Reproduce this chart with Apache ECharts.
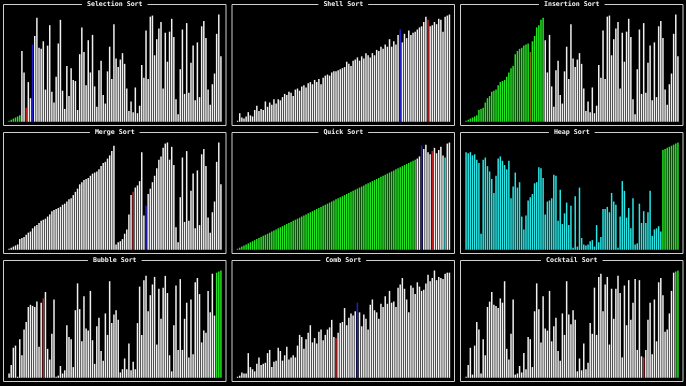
<!DOCTYPE html>
<html><head><meta charset="utf-8">
<script src="https://cdn.jsdelivr.net/npm/echarts@6/dist/echarts.min.js"></script>
<style>html,body{margin:0;padding:0;background:#000;}#c{width:686px;height:386px;}</style>
</head><body><div id="c"></div><script>
const titles = ['Selection Sort','Shell Sort','Insertion Sort','Merge Sort','Quick Sort','Heap Sort','Bubble Sort','Comb Sort','Cocktail Sort'];

const selectionSort = [1,2,3,4,5,6,66,46,13,37,22,72,80,97,69,68,75,30,71,90,28,18,42,73,95,29,12,52,24,50,39,38,11,63,88,65,34,76,46,81,33,14,48,57,25,17,47,70,40,91,59,51,58,64,54,31,10,19,9,32,8,15,53,41,85,40,98,99,62,77,87,93,31,83,56,84,96,79,21,7,49,86,26,92,27,55,71,20,74,23,89,94,78,30,16,35,45,82,100,61];
const shellSort = [1,8,4,3,5,9,6,5,11,15,10,12,11,19,14,18,16,21,17,21,20,23,26,25,28,27,24,30,31,29,33,34,32,36,37,35,39,37,40,35,41,43,44,43,46,47,47,48,49,50,51,56,54,52,57,58,60,57,61,59,64,62,60,64,62,67,66,70,68,72,70,77,70,75,72,81,86,74,82,78,85,81,83,84,86,88,89,93,98,95,89,90,93,91,96,95,84,98,99,100];
const insertionSort = [1,2,3,4,5,6,11,12,13,18,22,24,28,29,30,34,37,38,39,42,46,50,52,63,66,68,69,71,72,73,65,75,80,88,90,95,97,76,46,81,33,14,48,57,25,17,47,70,40,91,59,51,58,64,54,31,10,19,9,32,8,15,53,41,85,40,98,99,62,77,87,93,31,83,56,84,96,79,21,7,49,86,26,92,27,55,71,20,74,23,89,94,78,30,16,35,45,82,100,61];
const mergeSort = [1,2,3,4,5,10,11,12,14,16,17,20,22,23,25,27,28,29,31,33,36,37,38,39,40,42,43,45,47,48,51,54,57,61,63,65,66,67,69,71,72,73,75,78,81,82,85,88,92,97,5,7,8,10,15,19,33,51,54,58,60,64,91,32,41,52,57,63,69,76,84,87,95,99,100,84,96,79,21,7,49,86,26,92,27,55,71,20,74,23,89,94,78,30,16,35,45,82,100,61];
const quickSort = [1,2,3,4,5,6,7,8,9,10,11,12,13,14,15,16,17,18,19,20,21,22,23,24,25,26,27,28,29,30,31,32,33,34,35,36,37,38,39,40,41,42,43,44,45,46,47,48,49,50,51,52,53,54,55,56,57,58,59,60,61,62,63,64,65,66,67,68,69,70,71,72,73,74,75,76,77,78,79,80,81,82,83,84,85,87,97,94,98,91,89,92,95,90,93,96,88,86,99,100];
const heapSort = [91,90,91,88,89,84,81,15,84,86,78,73,66,53,69,85,87,83,79,75,83,48,59,72,58,63,31,19,32,46,49,52,62,63,77,76,67,33,45,46,48,70,69,27,56,24,34,44,23,41,2,50,3,58,11,5,4,5,8,9,3,23,7,12,38,38,40,35,53,45,42,2,31,64,55,30,39,20,48,5,6,43,25,36,25,35,55,13,19,20,22,17,93,94,95,96,97,98,99,100];
const bubbleSort = [4,12,28,30,1,36,21,45,52,66,68,67,66,71,29,70,74,80,27,17,41,73,1,2,11,4,7,49,38,36,10,63,88,64,34,76,46,44,81,35,13,48,56,25,16,60,40,90,51,59,63,54,5,8,18,8,32,7,15,8,51,85,40,91,95,62,77,87,94,31,83,55,84,95,79,21,6,49,86,26,92,26,55,70,19,73,22,89,93,78,33,44,42,81,61,97,58,98,99,100];
const combSort = [1,2,5,4,4,23,10,8,6,13,19,12,13,14,23,26,10,15,16,28,25,16,21,29,17,19,21,19,30,40,38,27,36,42,49,33,37,32,43,45,35,40,45,47,54,38,37,42,51,52,65,49,56,60,58,62,70,61,48,59,55,45,68,73,63,61,55,69,66,76,69,81,70,71,66,84,87,93,83,73,61,86,84,78,89,85,81,82,88,96,90,93,100,91,94,93,92,97,98,98];
const cocktailSort = [1,12,28,3,30,52,45,4,36,21,66,71,80,68,67,65,74,70,90,27,17,41,73,3,4,11,5,23,8,38,36,10,62,88,64,33,76,46,44,81,34,48,56,25,16,60,40,90,59,50,63,54,6,18,7,32,8,14,51,41,84,40,94,97,62,87,94,31,83,55,83,95,79,19,86,49,91,54,70,92,26,91,20,19,26,54,70,22,73,34,89,93,77,43,45,60,81,98,99,100];

// highlighted bars: index ranges [from, to] per colour role
const selectionMarks = {green: [0, 5], red: [8, 8], blue: [11, 11]};
const shellMarks = {blue: [76, 76], red: [89, 89]};
const insertionMarks = {green: [0, 36], brown: [30, 30]};
const mergeMarks = {red: [58, 58], blue: [64, 64]};
const quickMarks = {green: [0, 83], blue: [86, 86], red: [91, 91], cyan: [97, 97]};
const heapMarks = {cyan: [0, 91], green: [92, 99]};
const bubbleMarks = {red: [16, 16], green: [97, 99]};
const combMarks = {red: [46, 46], blue: [56, 56]};
const cocktailMarks = {red: [83, 83], green: [98, 99]};

const panelData = [selectionSort, shellSort, insertionSort, mergeSort, quickSort, heapSort, bubbleSort, combSort, cocktailSort];
const panelMarks = [selectionMarks, shellMarks, insertionMarks, mergeMarks, quickMarks, heapMarks, bubbleMarks, combMarks, cocktailMarks];

const COLORS = {white: '#f0f0f0', green: '#22e622', red: '#c42222', blue: '#2020d0', cyan: '#28e6e6', brown: '#96621a'};
const ORDER = ['green', 'cyan', 'brown', 'red', 'blue'];
const colLeft = [3.5, 232, 460.5];
const rowTop = [4.5, 132.5, 260.5];
const PW = 222.5, PH = 121;

function colorAt(marks, i) {
  let c = COLORS.white;
  for (const role of ORDER) {
    const r = marks[role];
    if (r && i >= r[0] && i <= r[1]) c = COLORS[role];
  }
  return c;
}

const grid = [], xAxis = [], yAxis = [], series = [], graphic = [];
panelData.forEach((data, p) => {
  const px = colLeft[p % 3], py = rowTop[Math.floor(p / 3)];
  grid.push({left: px + 4.5, top: py + 10, width: 214, height: 107.3, show: false});
  xAxis.push({type: 'category', gridIndex: p, data: data.map((_, i) => i), show: false, boundaryGap: true});
  yAxis.push({type: 'value', gridIndex: p, min: 0, max: 100, show: false});
  series.push({
    type: 'bar', xAxisIndex: p, yAxisIndex: p, barWidth: '70%', silent: true,
    data: data.map((v, i) => ({value: v, itemStyle: {color: colorAt(panelMarks[p], i)}}))
  });
  graphic.push({type: 'rect', shape: {x: px, y: py, width: PW, height: PH}, style: {fill: null, stroke: '#cfcfcf', lineWidth: 1}, silent: true, z: 10});
  graphic.push({type: 'text', x: px + PW / 2, y: py, z: 11, silent: true,
    style: {text: titles[p], fill: '#f2f2f2', font: 'bold 6.6px "DejaVu Sans Mono"', align: 'center', verticalAlign: 'middle', textAlign: 'center', textVerticalAlign: 'middle', backgroundColor: '#000', padding: [1, 5]}});
});

const chart = echarts.init(document.getElementById('c'), null, {renderer: 'canvas'});
chart.setOption({backgroundColor: '#000', animation: false, grid, xAxis, yAxis, series, graphic});
</script></body></html>
